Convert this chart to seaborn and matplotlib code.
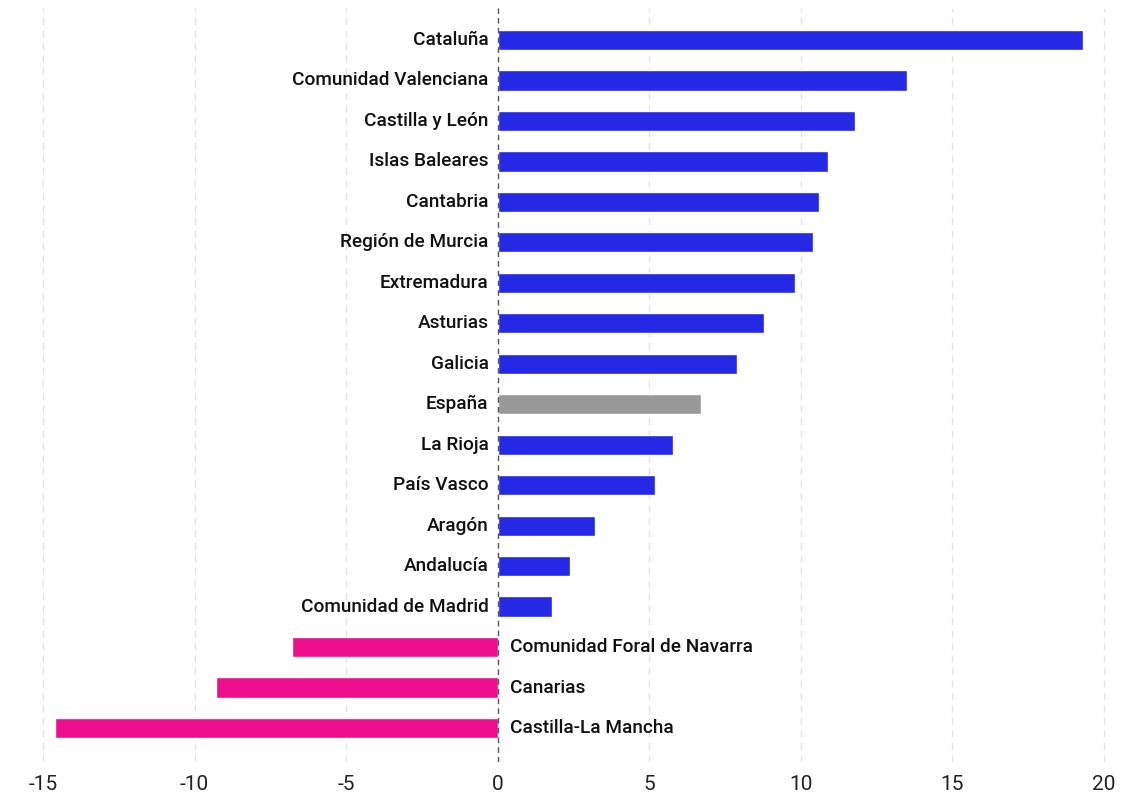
import pandas as pd
import matplotlib.pyplot as plt
import seaborn as sns

regions = ["Cataluña", "Comunidad Valenciana", "Castilla y León", "Islas Baleares",
           "Cantabria", "Región de Murcia", "Extremadura", "Asturias", "Galicia",
           "España", "La Rioja", "País Vasco", "Aragón", "Andalucía",
           "Comunidad de Madrid", "Comunidad Foral de Navarra", "Canarias",
           "Castilla-La Mancha"]
values = [19.3, 13.5, 11.8, 10.9, 10.6, 10.4, 9.8, 8.8, 7.9, 6.7, 5.8, 5.2,
          3.2, 2.4, 1.8, -6.8, -9.3, -14.6]
xticks = [-15, -10, -5, 0, 5, 10, 15, 20]

df = pd.DataFrame({"region": regions, "value": values})
df["group"] = ["total" if r == "España" else ("pos" if v >= 0 else "neg")
               for r, v in zip(df["region"], df["value"])]
palette = {"pos": "#2529E6", "neg": "#EC0E8C", "total": "#999999"}

sns.set_style("white")
plt.rcParams["font.family"] = ["Roboto", "DejaVu Sans"]

fig = plt.figure(figsize=(11.43, 7.95), dpi=100)
ax = fig.add_axes([0, 0.0415, 1, 0.9484])

sns.barplot(data=df, x="value", y="region", hue="group", palette=palette,
            dodge=False, width=0.5, orient="h", legend=False, ax=ax,
            saturation=1)

ax.set_xlim(-16.42, 21.29)
ax.set_ylim(17.84, -0.79)
ax.set_xticks(xticks)
ax.set_xticklabels([str(t) for t in xticks], fontsize=15, color="#222222")
ax.tick_params(axis="x", length=0, pad=9)
ax.set_yticks([])
ax.set_xlabel("")
ax.set_ylabel("")
for s in ax.spines.values():
    s.set_visible(False)

for t in xticks:
    if t == 0:
        ax.axvline(0, color="#555555", lw=1, ls=(0, (4, 3)), zorder=3)
    else:
        ax.axvline(t, color="#e3e3e3", lw=1, ls=(0, (5, 4)), zorder=0)

# region names: left of zero for gains, right of zero for losses
for i, (r, v) in enumerate(zip(regions, values)):
    if v >= 0:
        ax.text(-0.3, i, r, ha="right", va="center", fontsize=13.7,
                fontweight="medium", color="#111111")
    else:
        ax.text(0.4, i, r, ha="left", va="center", fontsize=13.7,
                fontweight="medium", color="#111111")

fig.savefig("out.png", dpi=100)
